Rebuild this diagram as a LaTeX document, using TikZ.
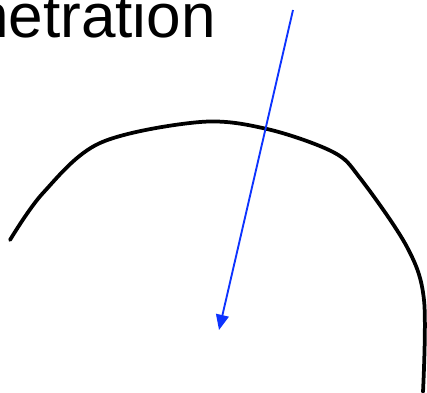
\documentclass[tikz,border=0pt]{standalone}
\usepackage{fontspec}
\setmainfont{Liberation Sans}
\usetikzlibrary{arrows.meta,calc}
\definecolor{ArrowClr}{rgb}{0.05,0.2,1}

\begin{document}
\begin{tikzpicture}[x=0.03cm,y=-0.03cm]
\useasboundingbox (0,0) rectangle (427,392);

\coordinate (S) at (293,10);
\coordinate (T) at (219,330);

\node[anchor=base east,inner sep=0pt,font=\fontsize{53}{53}\selectfont] (title) at (216,37) {netration};

\draw[line width=3.2pt,line cap=round] plot[smooth,tension=0.55] coordinates {(10,240) (43,193) (100,143) (200,122) (267,129) (333,152) (360,178) (407,247) (424,300) (423,392)};

\draw[ArrowClr,line width=1.6pt,-{Triangle[length=13pt,width=11pt]}] (S) -- (T);

\end{tikzpicture}
\end{document}
